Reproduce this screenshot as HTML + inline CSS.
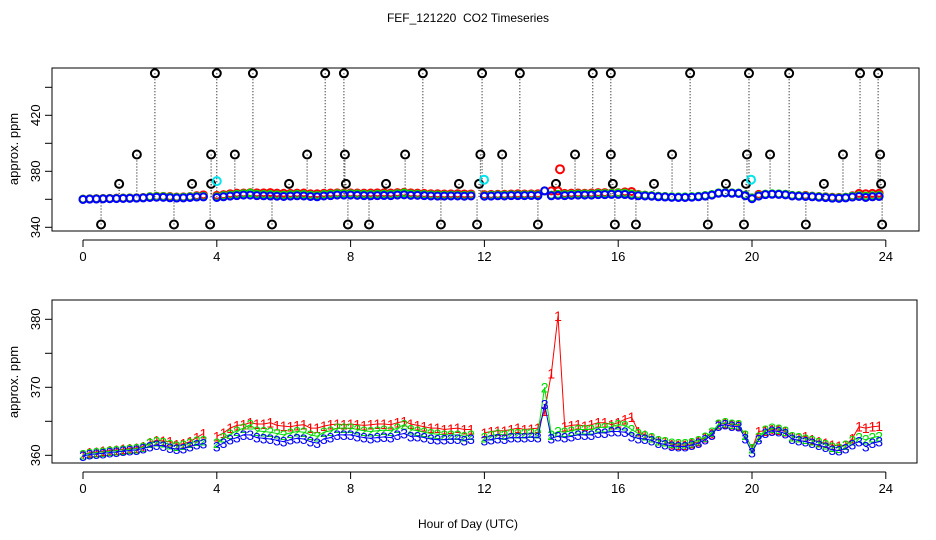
<!DOCTYPE html>
<html><head><meta charset="utf-8"><style>
body{margin:0;background:#fff;}
svg{display:block;font-family:"Liberation Sans",sans-serif;}
</style></head><body>
<svg id="chart" width="936" height="540" viewBox="0 0 936 540">
<text x="468" y="22" font-size="12" text-anchor="middle" style="white-space:pre">FEF_121220  CO2 Timeseries</text>
<text x="468" y="528" font-size="12" text-anchor="middle">Hour of Day (UTC)</text>
<text transform="translate(18,149) rotate(-90)" font-size="13" text-anchor="middle">approx. ppm</text>
<text transform="translate(18,382) rotate(-90)" font-size="13" text-anchor="middle">approx. ppm</text>
<rect x="52" y="68" width="867" height="163" fill="none" stroke="#000" stroke-width="1"/>
<rect x="52" y="300" width="865" height="163" fill="none" stroke="#000" stroke-width="1"/>
<g id="gtop"></g><g id="gbot"></g>
</svg>
<script>
const hours = [];
for (let i = 0; i < 120; i++) hours.push(+(i * 0.2).toFixed(1));
const series3 = [359.9,360.1,360.2,360.3,360.4, 360.5,360.6,360.7,360.8,361.0, 361.3,361.5,361.4,361.1,360.9, 361.0,361.3,361.6,361.7,null, 361.3,361.8,362.3,362.6,363.0, 363.0,362.6,362.5,362.4,362.2, 362.0,362.3,362.5,362.4,362.0, 361.8,362.4,362.6,363.0,363.0, 363.0,362.8,362.6,362.5,362.6, 362.7,362.6,363.0,363.2,362.8, 362.8,362.6,362.4,362.3,362.3, 362.4,362.4,362.2,362.4,null, 362.2,362.3,362.5,362.4,362.6, 362.6,362.6,362.7,362.6,367.5, 362.5,362.8,362.6,362.8,363.0, 363.0,363.0,363.3,363.3,363.5, 363.5,363.4,362.8,362.5,362.4, 362.2,361.8,361.6,361.4,361.3, 361.3,361.5,361.8,362.3,363.0, 364.3,364.5,364.3,364.2,362.5, 360.4,362.3,363.3,363.6,363.5, 363.2,362.4,362.2,362.0,361.8, 361.5,361.2,360.8,360.7,361.0, 361.6,362.0,361.3,361.8,362.0];
const series2 = [360.1,360.3,360.4,360.5,360.6, 360.7,360.8,360.9,361.0,361.2, 361.8,362.0,361.9,361.6,361.4, 361.5,361.8,362.1,362.2,null, 361.8,362.6,363.1,363.6,364.0, 364.5,363.6,363.5,363.4,363.2, 363.0,363.3,363.5,363.4,363.0, 362.8,363.4,363.6,364.0,364.0, 364.0,363.8,363.6,363.5,363.6, 363.7,363.6,364.0,364.5,363.8, 363.6,363.4,363.2,363.1,363.0, 363.0,363.0,362.8,363.0,null, 362.6,362.9,363.1,363.0,363.2, 363.2,363.2,363.3,363.2,370.0, 363.0,363.5,363.4,363.6,363.8, 363.8,363.8,364.1,364.1,364.2, 364.5,364.4,363.8,363.2,362.9, 362.6,362.2,362.0,361.8,361.7, 361.7,361.9,362.2,362.7,363.4, 364.6,364.8,364.6,364.5,363.0, 361.0,362.7,363.7,364.0,363.9, 363.6,362.8,362.6,362.4,362.2, 361.9,361.6,361.2,361.1,361.5, 362.2,362.6,362.3,362.6,362.8];
const series1 = [360.1,360.4,360.5,360.6,360.7, 360.8,360.9,361.0,361.1,361.3, 361.9,362.2,362.1,362.0,361.6, 361.7,362.0,362.6,363.2,null, 362.8,363.3,364.0,364.4,364.5, 364.8,364.6,364.6,364.8,364.4, 364.3,364.2,364.4,364.5,364.0, 364.0,364.3,364.5,364.6,364.5, 364.6,364.5,364.4,364.5,364.6, 364.6,364.5,364.8,365.0,364.6, 364.4,364.2,364.0,364.0,363.8, 363.9,364.0,363.8,363.8,null, 363.3,363.5,363.6,363.6,363.8, 364.0,363.8,363.9,364.0,366.5, 372.0,380.5,364.2,364.4,364.5, 364.3,364.5,364.8,364.8,364.5, 364.8,365.3,365.6,363.5,363.0, 362.6,362.2,362.0,361.6,361.5, 361.5,361.7,362.0,362.6,363.2, 364.5,364.7,364.5,364.4,363.0, 361.0,363.5,363.6,363.8,363.7, 363.5,362.8,362.6,362.8,362.3, 362.0,361.8,361.5,361.4,361.5, 362.5,364.2,364.0,364.2,364.3];
const outlierHours = [2.15,4.0,5.08,7.24,7.8,10.16,11.93,13.06,15.24,15.78,18.15,19.91,21.11,23.23,23.77, 1.61,3.83,4.54,6.70,7.83,9.63,11.88,12.53,14.71,15.78,17.61,19.85,20.54,22.72,23.83, 1.08,3.26,3.83,6.16,7.86,9.06,11.24,11.84,14.14,15.84,17.07,19.22,19.82,22.15,23.86, 0.54,2.72,3.80,5.65,7.92,8.55,10.70,11.78,13.60,15.90,16.53,18.68,19.76,21.61,23.89];
const outlierValues = [450,450,450,450,450,450,450,450,450,450,450,450,450,450,450, 392,392,392,392,392,392,392,392,392,392,392,392,392,392,392, 371,371,371,371,371,371,371,371,371,371,371,371,371,371,371, 342,342,342,342,342,342,342,342,342,342,342,342,342,342,342];
const cyanHours = [4.0, 11.99, 19.97];
const cyanValues = [373, 374, 374];
const redOutHours = [14.26];
const redOutValues = [381.5];
const xTicks = [0,4,8,12,16,20,24];
const topYTicks = [340,360,380,400,420,440];
const topYLabels = [340,380,420];
const botYTicks = [360,365,370,375,380];
const botYLabels = [360,370,380];

const NS = "http://www.w3.org/2000/svg";
const X = h => 83 + h * 33.45;
const YT = v => 199.3 - (v - 360) * 1.4;
const YB = v => 455.3 - (v - 360) * 6.8;
function mk(tag, attrs, parent) {
  const e = document.createElementNS(NS, tag);
  for (const k in attrs) e.setAttribute(k, attrs[k]);
  parent.appendChild(e); return e;
}
const gTop = document.getElementById('gtop');
const gBot = document.getElementById('gbot');

function xAxis(g, y, nm) {
  const a = mk('line', {x1: X(0), x2: X(24), y1: y, y2: y, stroke: '#000'}, g);
  
  
  xTicks.forEach(t => {
    mk('line', {x1: X(t), x2: X(t), y1: y, y2: y + 7, stroke: '#000'}, g);
    const tx = mk('text', {x: X(t), y: y + 21, 'font-size': 13, 'text-anchor': 'middle'}, g);
    tx.textContent = t;
    
    
  });
}
function yAxis(g, ticks, labels, Y, nm) {
  mk('line', {x1: 52, x2: 52, y1: Y(ticks[0]), y2: Y(ticks[ticks.length - 1]), stroke: '#000'}, g);
  ticks.forEach(t => mk('line', {x1: 45, x2: 52, y1: Y(t), y2: Y(t), stroke: '#000'}, g));
  labels.forEach(t => {
    const tx = mk('text', {transform: `translate(40,${Y(t)}) rotate(-90)`, 'font-size': 13, 'text-anchor': 'middle'}, g);
    tx.textContent = t;
    
    
  });
}
xAxis(gTop, 240, 'top'); xAxis(gBot, 472, 'bottom');
yAxis(gTop, topYTicks, topYLabels, YT, 'top');
yAxis(gBot, botYTicks, botYLabels, YB, 'bottom');

outlierHours.forEach((h, i) => {
  const v = outlierValues[i];
  mk('line', {x1: X(h), x2: X(h), y1: YT(v), y2: YT(361.5), stroke: '#000', 'stroke-dasharray': '1,2'}, gTop);
  const c = mk('circle', {cx: X(h), cy: YT(v), r: 4, fill: 'none', stroke: '#000', 'stroke-width': 2}, gTop);
  
  
});
const seriesList = [[series1, '#ff0000', '1'], [series2, '#00dd00', '2'], [series3, '#0000ff', '3']];
seriesList.forEach(([s, col, lab]) => {
  s.forEach((v, i) => {
    if (v === null) return;
    const vv = Math.min(v, 366);
    const c = mk('circle', {cx: X(hours[i]), cy: YT(vv), r: 3.5, fill: 'none', stroke: col, 'stroke-width': 2}, gTop);
    
    
  });
});
cyanHours.forEach((h, i) => {
  const c = mk('circle', {cx: X(h), cy: YT(cyanValues[i]), r: 4, fill: 'none', stroke: '#00e5ee', 'stroke-width': 2}, gTop);
  
  
});
redOutHours.forEach((h, i) => {
  const c = mk('circle', {cx: X(h), cy: YT(redOutValues[i]), r: 4, fill: 'none', stroke: '#ff0000', 'stroke-width': 2}, gTop);
  
  
});

seriesList.forEach(([s, col, lab]) => {
  let d = '', pen = false;
  s.forEach((v, i) => {
    if (v === null) { pen = false; return; }
    d += (pen ? 'L' : 'M') + X(hours[i]).toFixed(1) + ',' + YB(v).toFixed(1);
    pen = true;
  });
  const p = mk('path', {d: d, fill: 'none', stroke: col, 'stroke-width': 1}, gBot);
  
  
  s.forEach((v, i) => {
    if (v === null) return;
    const t = mk('text', {x: X(hours[i]), y: YB(v) + 5, 'font-size': 14, fill: col, 'text-anchor': 'middle'}, gBot);
    t.textContent = lab;
    
    
  });
});
</script>
</body></html>
